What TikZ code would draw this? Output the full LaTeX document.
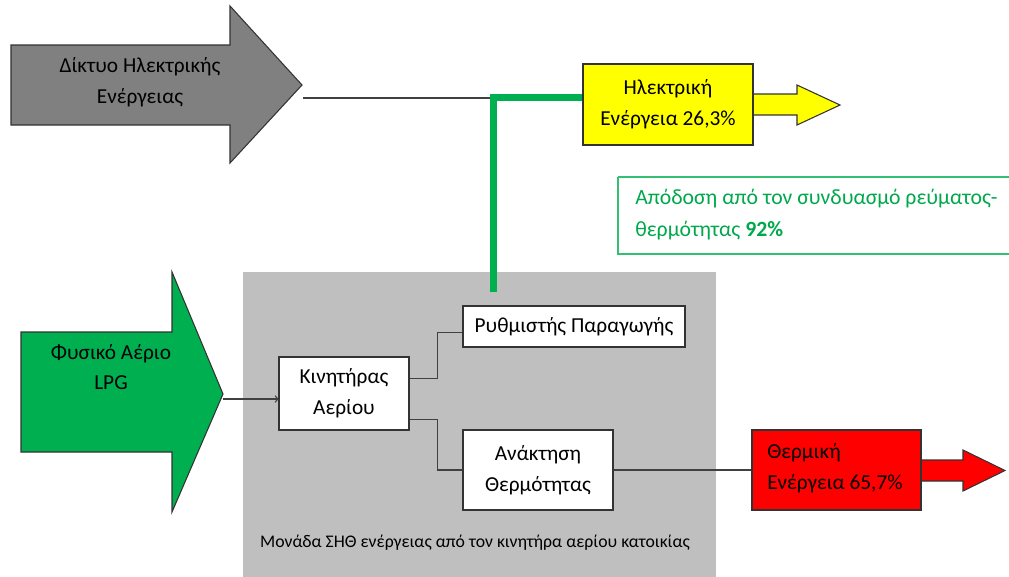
\documentclass[tikz,border=0pt]{standalone}
\usepackage{fontspec}
\setmainfont{Carlito}
\usetikzlibrary{arrows.meta,calc}
\definecolor{gbox}{HTML}{BFBFBF}
\definecolor{dgray}{HTML}{808080}
\definecolor{cgreen}{HTML}{00B050}
\definecolor{tgreen}{HTML}{00A84C}
\definecolor{cyellow}{HTML}{FFFF00}
\definecolor{cred}{HTML}{FF0000}
\definecolor{edge}{HTML}{333333}
\begin{document}
\begin{tikzpicture}[x=0.75pt,y=-0.75pt,
  shapeline/.style={draw=edge, line width=0.8pt, line join=miter},
  boxnode/.style={draw=edge, line width=0.8pt, inner sep=0pt, align=center, font=\fontsize{16}{23}\selectfont},
  txt/.style={inner sep=0pt, align=center, font=\fontsize{16}{23}\selectfont},
  conn/.style={draw=black!75, line width=0.8pt},
  greenline/.style={draw=cgreen, line width=4.6pt}]
\useasboundingbox (0,0) rectangle (1009,576);
% gray background unit
\fill[gbox] (243,272) rectangle (716,580);
\node[txt, font=\fontsize{13.3}{16}\selectfont] (caption) at (475,543) {Μονάδα ΣΗΘ ενέργειας από τον κινητήρα αερίου κατοικίας};
% grid arrow
\draw[shapeline, fill=dgray] (11,45) -- (230,45) -- (230,6) -- (302,85) -- (230,163) -- (230,125) -- (11,125) -- cycle;
\node[txt] (grid) at (140,82) {Δίκτυο Ηλεκτρικής\\Ενέργειας};
\coordinate (gridtip) at (303,98);
% gas arrow
\draw[shapeline, fill=cgreen] (21,332) -- (172,332) -- (172,272) -- (223,394) -- (172,512) -- (172,452) -- (21,452) -- cycle;
\node[txt] (gas) at (111,367) {Φυσικό Αέριο\\LPG};
\coordinate (gastip) at (223,399);
% yellow output arrow
\draw[shapeline, fill=cyellow] (740,94) -- (797,94) -- (797,85) -- (840,105) -- (797,125) -- (797,115) -- (740,115) -- cycle;
\node[boxnode, fill=cyellow, minimum width=170*0.75pt, minimum height=81*0.75pt] (elec) at (668,104.5) {Ηλεκτρική\\Ενέργεια 26,3\%};
% red output arrow
\draw[shapeline, fill=cred] (900,460) -- (963,460) -- (963,450) -- (1005,470.5) -- (963,491) -- (963,481) -- (900,481) -- cycle;
\node[boxnode, fill=cred, minimum width=169*0.75pt, minimum height=80*0.75pt] (heat) at (836.5,470) {};
\node[txt, align=left, anchor=west] (heattxt) at (767,468) {Θερμική\\Ενέργεια 65,7\%};
% efficiency box
\draw[draw=cgreen!80, line width=0.9pt] (618,177) -- (1012,177);
\draw[draw=cgreen!80, line width=0.9pt] (618,177) -- (618,254) -- (1012,254);
\node[txt, align=left, anchor=west, text=tgreen, font=\fontsize{16.3}{24}\selectfont] (eff) at (635,215) {Απόδοση από τον συνδυασμό ρεύματος-\\θερμότητας \textbf{92\%}};
% inner boxes
\node[boxnode, fill=white, minimum width=130*0.75pt, minimum height=73*0.75pt] (kin) at (344,393.5) {Κινητήρας\\Αερίου};
\node[boxnode, fill=white, minimum width=222*0.75pt, minimum height=41*0.75pt] (ryth) at (574,326.5) {Ρυθμιστής Παραγωγής};
\node[boxnode, fill=white, minimum width=150*0.75pt, minimum height=80*0.75pt] (anak) at (538,470) {Ανάκτηση\\Θερμότητας};
% connectors
\draw[conn] (gridtip) -- (497,98);
\draw[greenline] (elec.west |- 0,97.5) -- (493.5,97.5) -- (493.5,292);
\draw[conn, -{Straight Barb[length=2pt,width=5pt]}] (gastip) -- (kin.west |- gastip);
\draw[conn] ($(kin.north east)!0.3!(kin.south east)$) -- ++(28,0) |- ($(ryth.north west)!0.65!(ryth.south west)$);
\draw[conn] ($(kin.north east)!0.85!(kin.south east)$) -- ++(28,0) |- (anak.west);
\draw[conn] (anak.east) -- (heat.west);
\end{tikzpicture}
\end{document}
